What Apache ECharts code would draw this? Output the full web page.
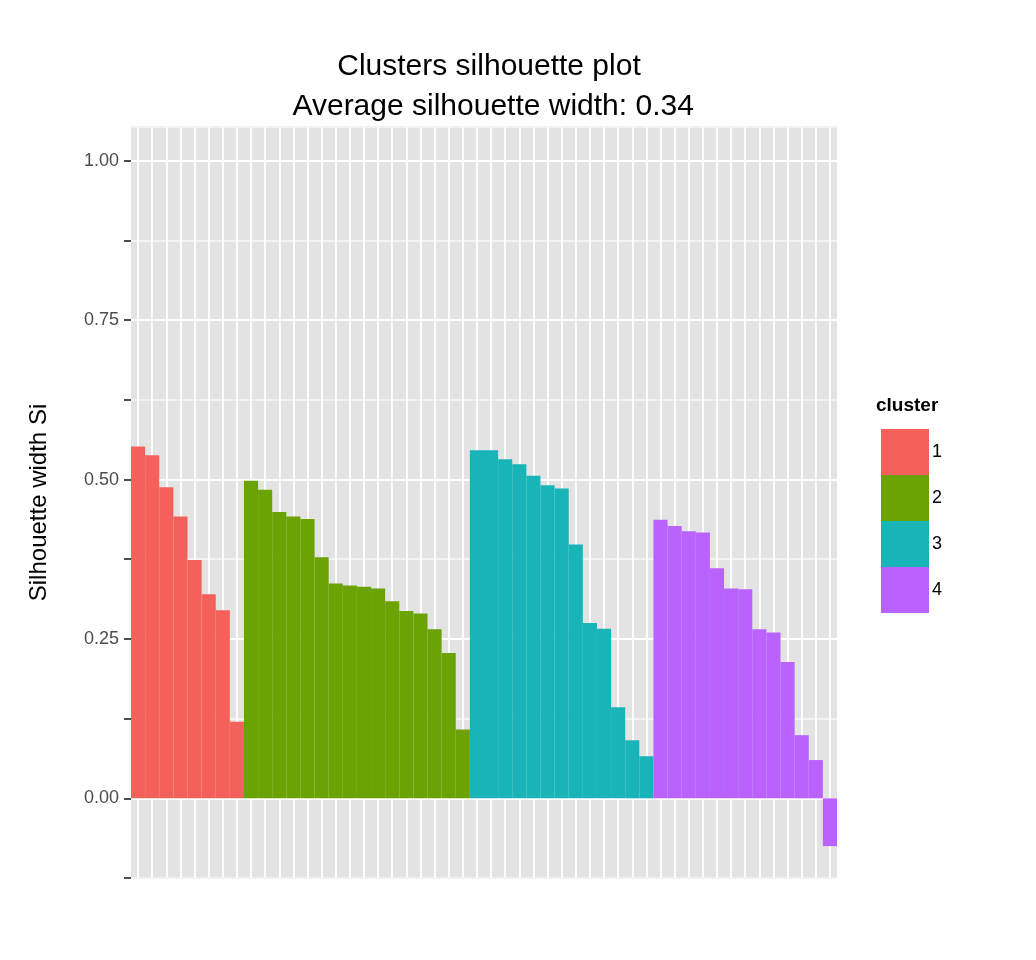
<!DOCTYPE html><html><head><meta charset="utf-8"><script src="https://cdn.jsdelivr.net/npm/echarts@6/dist/echarts.min.js"></script></head><body style="margin:0"><div id="c" style="width:1036px;height:960px"></div><script>
const clusters=['1','2','3','4'];
const colors=['#F8766D','#7CAE00','#00BFC4','#C77CFF'].map((c,i)=>['#F4615A','#6BA304','#19B4B8','#B962FD'][i]);
const c1=[0.552,0.538,0.488,0.442,0.374,0.320,0.295,0.120];
const c2=[0.498,0.484,0.449,0.442,0.438,0.378,0.337,0.334,0.332,0.329,0.309,0.294,0.290,0.265,0.228,0.108];
const c3=[0.546,0.546,0.532,0.524,0.506,0.491,0.486,0.398,0.275,0.266,0.143,0.091,0.066];
const c4=[0.437,0.427,0.419,0.417,0.361,0.329,0.328,0.265,0.260,0.214,0.099,0.060,-0.075];
const yTicks=[0,0.25,0.5,0.75,1];
const groups=[c1,c2,c3,c4];
const n=groups.reduce((a,g)=>a+g.length,0);
const cats=Array.from({length:n},(_,i)=>String(i+1));
let off=0;
const series=groups.map((g,k)=>{const d=new Array(n).fill('-');g.forEach((v,j)=>d[off+j]=v);off+=g.length;
 return {name:clusters[k],type:'bar',data:d,barWidth:'100%',barGap:'-100%',itemStyle:{color:colors[k]},xAxisIndex:0};});
const chart=echarts.init(document.getElementById('c'));
chart.setOption({animation:false,
 title:{text:'Clusters silhouette plot\n Average silhouette width: 0.34',left:484,top:42,textAlign:'center',textStyle:{fontFamily:'Liberation Sans',fontSize:30,fontWeight:'normal',color:'#000',lineHeight:40}},
 grid:{left:131,right:199,top:127,bottom:82,show:true,backgroundColor:'#e3e3e3',borderWidth:0},
 legend:{orient:'vertical',left:876,top:424,itemWidth:48,itemHeight:46,itemGap:0,icon:'rect',textStyle:{fontFamily:'Liberation Sans',fontSize:18,color:'#000',padding:[0,0,0,-2]},data:clusters},
 graphic:[{type:'text',left:876,top:396,style:{text:'cluster',font:'bold 19px Liberation Sans',fill:'#000'}}],
 xAxis:[{type:'category',data:cats,axisLine:{show:false},axisTick:{show:false},axisLabel:{show:false},splitLine:{show:false}},
  {type:'value',min:0,max:2*n,interval:1,position:'bottom',axisLine:{show:false},axisTick:{show:false},axisLabel:{show:false},splitLine:{show:true,lineStyle:{color:['rgba(0,0,0,0)','#ffffff'],width:1.8}}}],
 yAxis:{type:'value',min:-0.125,max:1.053,interval:0.125,name:'Silhouette width Si',nameLocation:'middle',nameGap:80,nameTextStyle:{fontFamily:'Liberation Sans',fontSize:24,color:'#000'},
  axisLine:{show:false},axisTick:{show:true,length:7,lineStyle:{color:'#4d4d4d',width:2},interval:(i,v)=>yTicks.includes(+(+v).toFixed(3))},
  axisLabel:{fontFamily:'Liberation Sans',fontSize:18,color:'#4d4d4d',margin:12,formatter:v=>yTicks.includes(+v.toFixed(3))?v.toFixed(2):'',showMaxLabel:false},
  splitLine:{lineStyle:{color:['#f2f2f2','#ffffff'],width:1.8}}},
 series:series});
</script></body></html>
